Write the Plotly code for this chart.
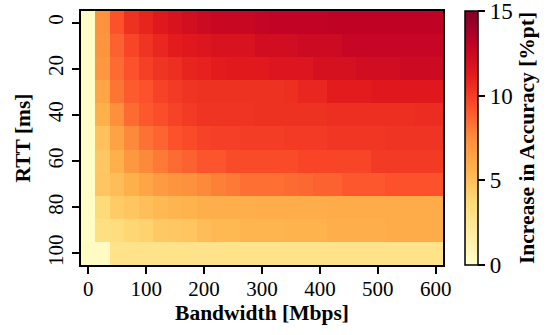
import plotly.graph_objects as go
import plotly.colors as pc

bandwidth = [0, 25, 50, 75, 100, 125, 150, 175, 200, 225, 250, 275, 300,
             325, 350, 375, 400, 425, 450, 475, 500, 525, 550, 575, 600]
rtt = [0, 10, 20, 30, 40, 50, 60, 70, 80, 90, 100]

acc_rtt0 = [0.2, 7.2, 9.3, 10.4, 10.9, 11.4, 11.8, 12.1, 12.4, 12.6, 12.6, 12.6, 12.8,
            12.9, 12.9, 12.9, 12.9, 13.0, 13.0, 13.0, 13.0, 13.0, 13.0, 13.0, 13.0]
acc_rtt10 = [0.2, 7.1, 8.8, 9.7, 10.3, 10.8, 11.2, 11.4, 11.6, 11.8, 11.8, 11.8, 12.2,
             12.2, 12.2, 12.4, 12.4, 12.4, 12.7, 12.7, 12.7, 12.7, 12.7, 12.7, 12.7]
acc_rtt20 = [0.2, 7.0, 8.5, 9.3, 9.9, 10.3, 10.5, 10.9, 11.0, 11.2, 11.3, 11.3, 11.3,
             11.6, 11.6, 11.6, 11.9, 11.9, 11.9, 12.2, 12.2, 12.2, 12.4, 12.4, 12.4]
acc_rtt30 = [0.2, 6.3, 8.2, 9.0, 9.3, 9.8, 10.1, 10.3, 10.4, 10.4, 10.4, 10.4, 10.4,
             10.4, 10.5, 10.8, 10.8, 11.2, 11.2, 11.2, 11.4, 11.4, 11.4, 11.4, 11.4]
acc_rtt40 = [0.2, 5.7, 7.4, 8.5, 9.1, 9.4, 9.8, 10.1, 10.3, 10.3, 10.3, 10.3, 10.4,
             10.4, 10.4, 10.4, 10.4, 10.5, 10.5, 10.5, 10.5, 10.5, 10.5, 10.6, 10.6]
acc_rtt50 = [0.2, 4.9, 6.4, 7.6, 8.3, 8.7, 9.3, 9.5, 9.8, 9.9, 9.9, 10.0, 10.0,
             10.0, 10.1, 10.1, 10.1, 10.2, 10.2, 10.2, 10.2, 10.3, 10.3, 10.3, 10.3]
acc_rtt60 = [0.2, 4.6, 5.7, 7.0, 7.6, 8.1, 8.5, 8.8, 9.2, 9.2, 9.5, 9.5, 9.5,
             9.5, 9.5, 9.7, 9.7, 9.7, 9.7, 9.7, 10.1, 10.1, 10.1, 10.1, 10.1]
acc_rtt70 = [0.2, 4.7, 5.1, 5.7, 6.3, 6.8, 7.1, 7.3, 7.6, 7.9, 8.1, 8.4, 8.4,
             8.4, 8.5, 8.6, 8.8, 8.8, 9.1, 9.1, 9.1, 9.3, 9.3, 9.3, 9.3]
acc_rtt80 = [0.3, 3.6, 4.4, 4.7, 5.0, 5.3, 5.5, 5.6, 5.8, 5.8, 5.8, 5.8, 5.9,
             5.9, 5.9, 5.9, 5.9, 6.0, 6.0, 6.0, 6.0, 6.0, 6.0, 6.0, 6.0]
acc_rtt90 = [0.3, 3.2, 3.4, 3.9, 4.1, 4.5, 4.6, 4.7, 5.1, 5.3, 5.3, 5.5, 5.5,
             5.5, 5.6, 5.6, 5.6, 5.8, 5.8, 5.8, 5.8, 6.0, 6.0, 6.0, 6.0]
acc_rtt100 = [0.4, 0.4, 2.8, 2.8, 2.8, 2.8, 2.8, 2.8, 2.8, 2.8, 2.8, 2.8, 2.8,
              2.8, 2.8, 2.8, 2.8, 2.8, 2.8, 2.8, 2.8, 2.8, 2.8, 2.8, 2.8]

z = [acc_rtt0, acc_rtt10, acc_rtt20, acc_rtt30, acc_rtt40, acc_rtt50,
     acc_rtt60, acc_rtt70, acc_rtt80, acc_rtt90, acc_rtt100]

x_ticks = [0, 100, 200, 300, 400, 500, 600]
y_ticks = [0, 20, 40, 60, 80, 100]
cbar_ticks = [0, 5, 10, 15]

FONT = "Liberation Serif"
TICK = 21
TITLE = 21.5
cs = pc.sequential.YlOrRd
colorscale = [[i / (len(cs) - 1), c] for i, c in enumerate(cs)]

fig = go.Figure(go.Heatmap(
    x=bandwidth, y=rtt, z=z, zmin=0, zmax=15,
    colorscale=colorscale,
    colorbar=dict(
        x=1.061, xanchor="left", xref="paper", xpad=0, ypad=0,
        y=0.5, yanchor="middle", len=1, lenmode="fraction",
        thickness=13, outlinecolor="black", outlinewidth=1.5,
        tickvals=cbar_ticks, ticklabeloverflow="allow",
        ticks="outside", ticklen=7, tickwidth=1.5, tickcolor="black",
        tickfont=dict(family=FONT, size=23, color="black"),
        title=dict(text="<b>Increase in Accuracy [%pt]</b>", side="right",
                   font=dict(family=FONT, size=TITLE, color="black")),
    ),
))

fig.update_layout(
    width=553, height=335,
    margin=dict(l=80.5, r=110, t=9, b=70),
    paper_bgcolor="white", plot_bgcolor="white",
    font=dict(family=FONT, size=TICK, color="black"),
)
fig.update_xaxes(
    range=[-12.5, 612.5], tickvals=x_ticks, ticks="outside", ticklen=7.5,
    tickwidth=1.5, tickcolor="black", showline=True, linecolor="black",
    linewidth=1.5, mirror=True, showgrid=False, zeroline=False,
    ticklabelstandoff=-3,
    title=dict(text="<b>Bandwidth [Mbps]</b>", standoff=0,
               font=dict(family=FONT, size=TITLE)),
    tickfont=dict(family=FONT, size=TICK),
)
fig.update_yaxes(
    range=[105, -5], tickvals=y_ticks, ticks="outside", ticklen=7.5,
    tickwidth=1.5, tickcolor="black", showline=True, linecolor="black",
    linewidth=1.5, mirror=True, showgrid=False, zeroline=False, tickangle=-90,
    title=dict(text="<b>RTT [ms]</b>", standoff=8,
               font=dict(family=FONT, size=TITLE)),
    tickfont=dict(family=FONT, size=TICK),
)

fig.write_html("out.html")
